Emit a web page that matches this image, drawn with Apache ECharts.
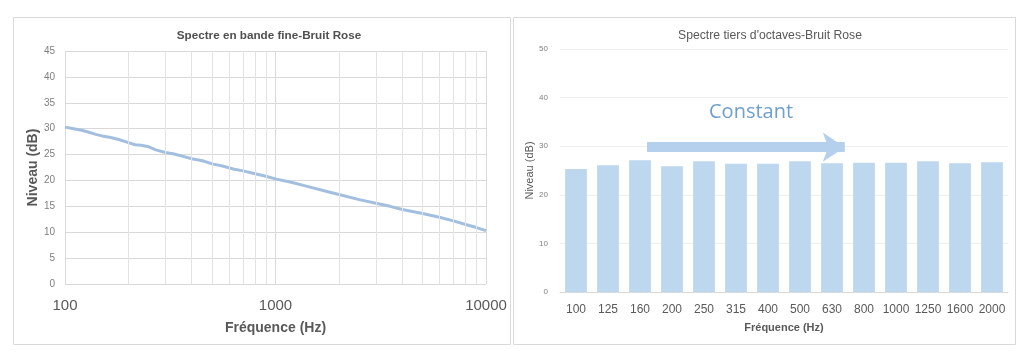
<!DOCTYPE html>
<html>
<head>
<meta charset="utf-8">
<script src="https://cdn.jsdelivr.net/npm/echarts@6/dist/echarts.min.js"></script>
<style>
  body { margin: 0; background: #fff; }
  #chart { width: 1024px; height: 353px; }
</style>
</head>
<body>
<div id="chart"></div>
<script>
// fine band spectrum (left)
var fineFreq = [100, 110, 120, 130, 140, 150, 165, 180, 200, 215, 230, 250, 270, 300, 330, 360, 400, 450, 500, 560, 630, 710, 800, 900, 1000, 1200, 1400, 1700, 2000, 2500, 3000, 3500, 4000, 5000, 6000, 7000, 8000, 9000, 10000];
var fineLevel = [30.3, 30.0, 29.7, 29.3, 28.9, 28.6, 28.3, 27.9, 27.3, 26.9, 26.8, 26.5, 25.9, 25.4, 25.1, 24.7, 24.2, 23.8, 23.2, 22.8, 22.2, 21.8, 21.3, 20.8, 20.3, 19.6, 18.9, 18.0, 17.3, 16.3, 15.6, 15.0, 14.4, 13.6, 12.9, 12.2, 11.5, 10.9, 10.3];
var minorFreq = [200, 300, 400, 500, 600, 700, 800, 900, 2000, 3000, 4000, 5000, 6000, 7000, 8000, 9000];

// third octave spectrum (right)
var bands = ['100', '125', '160', '200', '250', '315', '400', '500', '630', '800', '1000', '1250', '1600', '2000'];
var bandLevel = [25.3, 26.1, 27.1, 25.9, 26.9, 26.4, 26.4, 26.9, 26.5, 26.6, 26.6, 26.9, 26.5, 26.7];

var chart = echarts.init(document.getElementById('chart'));

var option = {
  backgroundColor: '#fff',
  animation: false,
  graphic: [
    { type: 'rect', shape: { x: 13.5, y: 17.5, width: 497, height: 327 }, style: { fill: null, stroke: '#d9d9d9', lineWidth: 1 } },
    { type: 'rect', shape: { x: 513.5, y: 17.5, width: 502, height: 327 }, style: { fill: null, stroke: '#d9d9d9', lineWidth: 1 } }
  ],
  title: [
    {
      text: 'Spectre en bande fine-Bruit Rose',
      left: 264, top: 25, textAlign: 'center',
      textStyle: { fontFamily: 'Liberation Sans', fontSize: 11.7, fontWeight: 'bold', color: '#505050' }
    },
    {
      text: "Spectre tiers d'octaves-Bruit Rose",
      left: 765, top: 25, textAlign: 'center',
      textStyle: { fontFamily: 'Liberation Sans', fontSize: 12.2, fontWeight: 'normal', color: '#595959' }
    }
  ],
  grid: [
    { left: 65, top: 51, width: 421, height: 233 },
    { left: 560, top: 49, width: 448, height: 243 }
  ],
  xAxis: [
    {
      gridIndex: 0, type: 'log', logBase: 10, min: 100, max: 10000,
      name: 'Fréquence (Hz)', nameLocation: 'middle', nameGap: 37,
      nameTextStyle: { fontFamily: 'Liberation Sans', fontSize: 14, fontWeight: 'bold', color: '#595959' },
      axisLine: { show: false }, axisTick: { show: false },
      axisLabel: {
        fontFamily: 'Liberation Sans', fontSize: 15, color: '#595959', margin: 14,
        formatter: function (v) { return String(Math.round(v)); }
      },
      splitLine: { show: true, lineStyle: { color: '#d9d9d9' } }
    },
    {
      gridIndex: 1, type: 'category', data: bands,
      name: 'Fréquence (Hz)', nameLocation: 'middle', nameGap: 30,
      nameTextStyle: { fontFamily: 'Liberation Sans', fontSize: 11, fontWeight: 'bold', color: '#595959' },
      axisLine: { lineStyle: { color: '#d9d9d9' } }, axisTick: { show: false },
      axisLabel: { interval: 0, fontFamily: 'Liberation Sans', fontSize: 12, color: '#595959', margin: 12 }
    },
    { gridIndex: 1, type: 'value', min: 0, max: 14, show: false }
  ],
  yAxis: [
    {
      gridIndex: 0, type: 'value', min: 0, max: 45, interval: 5,
      name: 'Niveau (dB)', nameLocation: 'middle', nameGap: 24,
      nameTextStyle: { fontFamily: 'Liberation Sans', fontSize: 14, fontWeight: 'bold', color: '#595959' },
      axisLine: { show: false }, axisTick: { show: false },
      axisLabel: { fontFamily: 'Liberation Sans', fontSize: 10, color: '#7f7f7f', margin: 10 },
      splitLine: { lineStyle: { color: '#d9d9d9' } }
    },
    {
      gridIndex: 1, type: 'value', min: 0, max: 50, interval: 10,
      name: 'Niveau (dB)', nameLocation: 'middle', nameGap: 22,
      nameTextStyle: { fontFamily: 'Liberation Sans', fontSize: 11, color: '#595959' },
      axisLine: { show: false }, axisTick: { show: false },
      axisLabel: { fontFamily: 'Liberation Sans', fontSize: 8, color: '#7f7f7f', margin: 12 },
      splitLine: { lineStyle: { color: '#eeeeee' } }
    }
  ],
  series: [
    {
      // minor vertical gridlines of the log axis
      type: 'line', xAxisIndex: 0, yAxisIndex: 0, data: [], silent: true,
      markLine: {
        symbol: 'none', silent: true, label: { show: false },
        lineStyle: { color: '#e3e3e3', type: 'solid', width: 1 },
        data: minorFreq.map(function (f) { return { xAxis: f }; })
      }
    },
    {
      type: 'line', xAxisIndex: 0, yAxisIndex: 0,
      data: fineFreq.map(function (f, i) { return [f, fineLevel[i]]; }),
      showSymbol: false, smooth: false,
      lineStyle: { color: '#a3bfdf', width: 3 }
    },
    {
      type: 'bar', xAxisIndex: 1, yAxisIndex: 1, data: bandLevel,
      barWidth: '68%', itemStyle: { color: '#bdd7ee' }
    },
    {
      // arrow + "Constant" annotation
      type: 'line', xAxisIndex: 2, yAxisIndex: 1, data: [],
      markLine: {
        silent: true, symbol: ['none', 'arrow'], symbolSize: 22,
        label: { show: false },
        lineStyle: { color: '#b4d0ec', type: 'solid', width: 10, opacity: 1 },
        data: [[{ coord: [2.72, 29.8] }, { coord: [8.9, 29.8] }]]
      },
      markPoint: {
        silent: true, symbol: 'circle', symbolSize: 0,
        label: { show: true, position: 'inside', formatter: 'Constant', fontFamily: 'Open Sans', fontSize: 20, color: '#6f9fcc' },
        data: [{ coord: [5.97, 37.0] }]
      }
    }
  ]
};

chart.setOption(option);
</script>
</body>
</html>
